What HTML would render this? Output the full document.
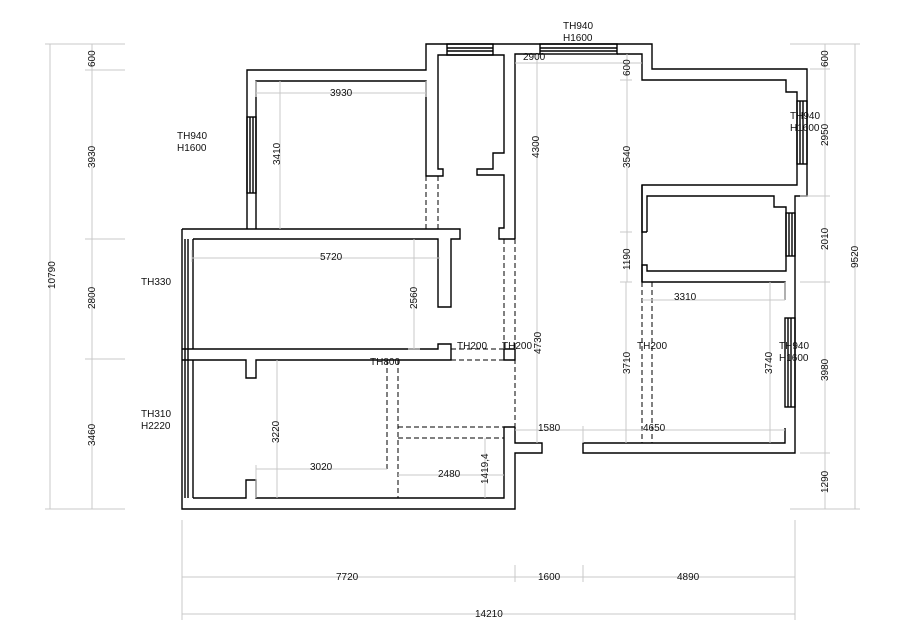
<!DOCTYPE html>
<html><head><meta charset="utf-8"><style>
html,body{margin:0;padding:0;background:#fff;}
svg{display:block;}
text{font-family:"Liberation Sans",sans-serif;font-size:10px;fill:#111;}
.w{fill:none;stroke:#000;stroke-width:1.4;}
.d{fill:none;stroke:#000;stroke-width:1;stroke-dasharray:5,3;}
.g{fill:none;stroke:#c8c8c8;stroke-width:1;}
</style></head><body>
<svg width="912" height="637" viewBox="0 0 912 637" xmlns="http://www.w3.org/2000/svg">
<!-- walls outer -->
<path class="w" d="M247,229 V70 H426 V44 H652 V69 H807 V196 H795 V453 H583 V443 H785 V428 M785,300 V282 H642 V185 H797 V92 H786 V80 H642 V54 H617 M540,54 H515 V239"/>
<path class="w" d="M256,229 V81 H426 V176 H443 V169 H438 V55 H504 V153 H493 V169 H477 V175 H504 V228 H499 V239 H515"/>
<path class="w" d="M182,229 H460 V239 H451 V307 H438 V239 H193"/>
<path class="w" d="M647,232 V196 H774 V207 H786 V271 H647 V265 H642 V282"/>
<path class="w" d="M642,185 V232 H647"/>
<!-- left outer -->
<path class="w" d="M182,229 V509 H515 V453 H542 V443 H515 V427"/>
<path class="w" d="M193,498 H246 V480 H256 V498 H504 V427 H515"/>
<path class="w" d="M182,349 H438 V344 H451 V360 H256 V378 H246 V360 H182"/>
<path class="w" d="M504,349 H515 V360 H504 Z"/>
<!-- left windows -->
<path class="w" d="M185,239 V498 M188,239 V498 M193,239 V349 M193,360 V498"/>
<!-- window top-left room -->
<rect class="w" x="247" y="117" width="9" height="76"/>
<path class="w" d="M250,117 V193 M253,117 V193"/>
<rect class="w" x="447" y="44" width="46" height="11"/>
<path class="w" d="M447,48 H493 M447,51 H493"/>
<rect class="w" x="540" y="44" width="77" height="10"/>
<path class="w" d="M540,48 H617 M540,51 H617"/>
<rect class="w" x="797" y="101" width="10" height="63"/>
<path class="w" d="M800,101 V164 M803,101 V164"/>
<rect class="w" x="786" y="213" width="9" height="43"/>
<path class="w" d="M789,213 V256 M792,213 V256"/>
<rect class="w" x="785" y="318" width="10" height="89"/>
<path class="w" d="M788,318 V407 M791,318 V407"/>
<!-- dashed -->
<path class="d" d="M426,176 V229 M438,176 V229 M504,239 V349 M515,239 V427 M451,349 H504 M451,360 H515 M387,360 V469 M398,360 V498 M398,427 H504 M398,438 H504 M642,282 V443 M652,282 V443"/>
<!-- gray dims -->
<path class="g" d="M256,93 H426 M280,81 V229 M256,81 V97 M426,81 V97 M537,54 V239 M515,63 H642 M627,54 V282 M620,80 H632 M620,232 H632 M620,282 H632 M192,258 H440 M192,250 V262 M414,239 V349 M408,349 H420 M537,239 V443 M277,360 V498 M256,469 H387 M256,465 V498 M398,475 H504 M485,438 V498 M515,430 H583 M583,426 V443 M642,300 H785 M785,282 V300 M626,282 V443 M770,282 V443 M583,430 H785"/>
<!-- outer dims -->
<path class="g" d="M50,44 V509 M92,44 V509 M45,44 H125 M85,70 H125 M85,239 H125 M85,359 H125 M45,509 H125 M825,44 V509 M855,44 V509 M790,44 H860 M810,69 H830 M800,196 H830 M800,282 H830 M800,453 H830 M790,509 H860 M182,577 H795 M182,614 H795 M182,520 V620 M515,565 V582 M583,565 V582 M795,520 V620"/>
<!-- dim text -->
<text x="330" y="96">3930</text>
<text x="523" y="60">2900</text>
<text x="320" y="260">5720</text>
<text x="310" y="470">3020</text>
<text x="438" y="477">2480</text>
<text x="538" y="431">1580</text>
<text x="674" y="300">3310</text>
<text x="643" y="431">4650</text>
<text x="336" y="580">7720</text>
<text x="538" y="580">1600</text>
<text x="677" y="580">4890</text>
<text x="475" y="617">14210</text>
<g transform="rotate(-90)">
<text x="-165" y="280">3410</text>
<text x="-158" y="539">4300</text>
<text x="-76" y="630">600</text>
<text x="-168" y="630">3540</text>
<text x="-270" y="630">1190</text>
<text x="-309" y="417">2560</text>
<text x="-354" y="541">4730</text>
<text x="-443" y="279">3220</text>
<text x="-484" y="488">1419,4</text>
<text x="-374" y="630">3710</text>
<text x="-374" y="772">3740</text>
<text x="-289" y="55">10790</text>
<text x="-67" y="95">600</text>
<text x="-168" y="95">3930</text>
<text x="-309" y="95">2800</text>
<text x="-446" y="95">3460</text>
<text x="-67" y="828">600</text>
<text x="-146" y="828">2950</text>
<text x="-250" y="828">2010</text>
<text x="-381" y="828">3980</text>
<text x="-493" y="828">1290</text>
<text x="-268" y="858">9520</text>
</g>
<!-- labels -->
<text x="177" y="139">TH940</text><text x="177" y="151">H1600</text>
<text x="563" y="29">TH940</text><text x="563" y="41">H1600</text>
<text x="790" y="119">TH940</text><text x="790" y="131">H1600</text>
<text x="141" y="285">TH330</text>
<text x="141" y="417">TH310</text><text x="141" y="429">H2220</text>
<text x="457" y="349">TH200</text>
<text x="502" y="349">TH200</text>
<text x="370" y="365">TH800</text>
<text x="637" y="349">TH200</text>
<text x="779" y="349">TH940</text><text x="779" y="361">H1600</text>
</svg>
</body></html>
